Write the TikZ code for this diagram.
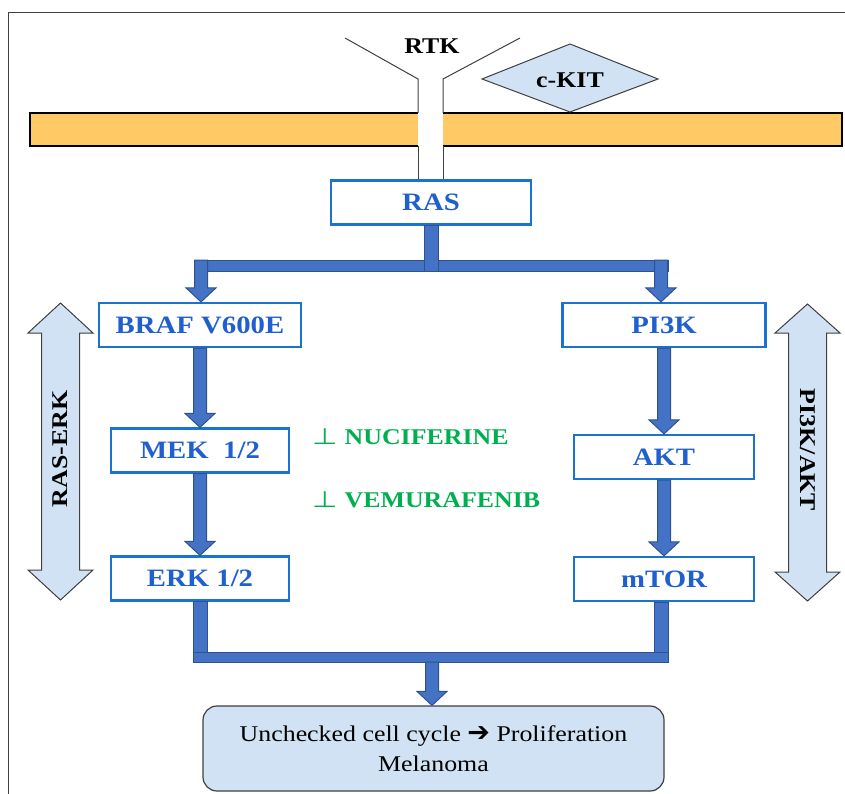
\documentclass[tikz,border=0pt]{standalone}
\usepackage{graphicx}
\usepackage{fontspec}
\setmainfont{Liberation Serif}[FakeStretch=1.15]
\newfontfamily\dejavu{DejaVu Sans}
\usetikzlibrary{calc}
\definecolor{membr}{HTML}{FFC966}
\definecolor{boxblue}{HTML}{1A73D0}
\definecolor{txtblue}{HTML}{1F5FCF}
\definecolor{arrfill}{HTML}{4472C4}
\definecolor{arrline}{HTML}{2F528F}
\definecolor{lightb}{HTML}{D0E2F3}
\definecolor{inhgreen}{HTML}{00B050}
\definecolor{edgegray}{HTML}{404040}
\newcommand\blockdown[2]{\draw[blk] let \p1=(#1),\p2=(#2) in
  (\x1-6.5pt,\y1) -- (\x1-6.5pt,\y2+14pt) -- (\x1-15pt,\y2+14pt) -- (\x1,\y2)
  -- (\x1+15pt,\y2+14pt) -- (\x1+6.5pt,\y2+14pt) -- (\x1+6.5pt,\y1) -- cycle;}
\newcommand\inhsym{{\dejavu\mdseries\scalebox{1.3}[1]{⊥}}\hspace{7pt}}
\tikzset{
  bbox/.style={draw=boxblue, line width=2.2pt, fill=white, text=txtblue,
    font=\fontsize{25}{30}\selectfont\bfseries, minimum height=44pt, inner sep=0pt},
  blk/.style={fill=arrfill, draw=arrline, line width=1pt, line join=miter},
  lab/.style={font=\fontsize{22.5}{27}\selectfont\bfseries, text=black, inner sep=0pt},
  inh/.style={font=\fontsize{22.5}{27}\selectfont\bfseries, text=inhgreen, inner sep=0pt},
  dbl/.style={fill=lightb, draw=edgegray, line width=1pt},
  outbox/.style={draw=edgegray, line width=1.2pt, fill=lightb, rounded corners=14pt,
    align=center, font=\fontsize{22.5}{30}\selectfont, inner sep=0pt},
}
\begin{document}
\begin{tikzpicture}[x=1pt,y=-1pt]
\useasboundingbox (0,0) rectangle (845,794);
% frame
\draw[edgegray, line width=1pt] (8,794) -- (8,13) -- (845,13);
% membrane
\draw[fill=membr, line width=1.6pt] (30,113) rectangle (842,146);
\fill[white] (418,111) rectangle (443,148);
% RTK receptor
\draw[edgegray, line width=1pt] (345,38) -- (418,79) -- (418,113);
\draw[edgegray, line width=1pt] (418,146) -- (418,181);
\draw[edgegray, line width=1pt] (520,38) -- (443,79) -- (443,113);
\draw[edgegray, line width=1pt] (443,146) -- (443,181);
\node[lab] (rtk) at (432,46) {RTK};
% c-KIT
\draw[dbl] (482,79) -- (570,44) -- (658,79) -- (570,112) -- cycle;
\node[lab] (ckit) at (570,80) {c-KIT};
% boxes
\node[bbox, minimum width=200pt] (ras) at (431,202.5) {RAS};
\node[bbox, minimum width=202pt] (braf) at (200,325) {BRAF V600E};
\node[bbox, minimum width=203pt] (pi3k) at (664,325) {PI3K};
\node[bbox, minimum width=178pt] (mek) at (200,450.5) {MEK\ \ 1/2};
\node[bbox, minimum width=180pt] (akt) at (664,457) {AKT};
\node[bbox, minimum width=178pt] (erk) at (200,578.5) {ERK 1/2};
\node[bbox, minimum width=180pt] (mtor) at (664,579) {mTOR};
\node[outbox, minimum width=461pt, minimum height=85pt] (out) at (433.5,748.5)
  {Unchecked cell cycle {\dejavu\fontsize{27}{30}\selectfont ➔} Proliferation\\Melanoma};
% RAS split
\coordinate (barL) at (195,260);
\coordinate (barR) at (668,271);
\coordinate (brL) at (201,260);
\coordinate (brR) at (661,260);
\draw[blk] (barL) rectangle (barR);
\draw[blk] let \p1=(ras.south), \p2=(barR) in (\x1-7pt,\y1) rectangle (\x1+7pt,\y2);
\blockdown{brL}{braf.north}
\blockdown{brR}{pi3k.north}
% chains
\blockdown{braf.south}{mek.north}
\blockdown{mek.south}{erk.north}
\blockdown{pi3k.south}{akt.north}
\blockdown{akt.south}{mtor.north}
% merge
\coordinate (bbL) at (193,652);
\coordinate (bbR) at (668,662);
\coordinate (bmid) at (432,662);
\draw[blk] let \p1=(erk.south), \p2=(bbR) in (\x1-7pt,\y1) rectangle (\x1+7pt,\y2);
\draw[blk] let \p1=(mtor.south), \p2=(bbR) in (\x1-10pt,\y1) rectangle (\x1+4pt,\y2);
\draw[blk] (bbL) rectangle (bbR);
\blockdown{bmid}{out.north}
% inhibitors
\node[inh, anchor=west] (nuc) at (312,437) {\inhsym NUCIFERINE};
\node[inh, anchor=west] (vem) at (312,500) {\inhsym VEMURAFENIB};
% side double arrows
\draw[dbl] (60.5,303) -- (93,333) -- (79.5,333) -- (79.5,570) -- (93,570) -- (60.5,600)
  -- (28,570) -- (41.5,570) -- (41.5,333) -- (28,333) -- cycle;
\node[lab, rotate=90] (raserk) at (60.5,449) {RAS-ERK};
\draw[dbl] (807.5,304) -- (840,333) -- (826.5,333) -- (826.5,572) -- (840,572) -- (807.5,601)
  -- (775,572) -- (788.5,572) -- (788.5,333) -- (775,333) -- cycle;
\node[lab, rotate=-90] (pi3kakt) at (807.5,450) {PI3K/AKT};
\end{tikzpicture}
\end{document}
